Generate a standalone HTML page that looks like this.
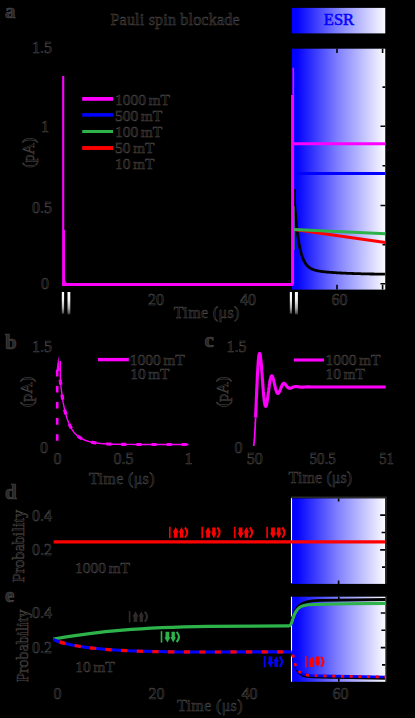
<!DOCTYPE html>
<html>
<head>
<meta charset="utf-8">
<style>
html,body{margin:0;padding:0;background:#000;}
body{width:415px;height:718px;overflow:hidden;font-family:"Liberation Serif",serif;}
svg{display:block;}
text{font-family:"Liberation Serif",serif;fill:#060606;stroke:#4e4a4a;stroke-width:0.5;}
.b{font-weight:bold;fill:#2a2727;stroke:#4a4646;stroke-width:0.7;}
</style>
</head>
<body>
<svg width="415" height="718" viewBox="0 0 415 718">
<defs>
<linearGradient id="g" x1="0" x2="1" y1="0" y2="0">
<stop offset="0" stop-color="#0000ff"/>
<stop offset="0.06" stop-color="#0404ff"/>
<stop offset="0.5" stop-color="#8282ff"/>
<stop offset="1" stop-color="#fbfbff"/>
</linearGradient>
<linearGradient id="w" x1="0" x2="0" y1="0" y2="1">
<stop offset="0" stop-color="#ffffff"/>
<stop offset="0.35" stop-color="#f2f2f2"/>
<stop offset="0.7" stop-color="#b0b0b0"/>
<stop offset="0.93" stop-color="#5a5a5a"/>
<stop offset="1" stop-color="#202020"/>
</linearGradient>
</defs>
<rect width="415" height="718" fill="#000"/>

<!-- panel a -->
<rect x="291.85" y="7.9" width="93.4" height="25.5" fill="url(#g)"/>
<rect x="291.85" y="48.7" width="93.4" height="240.9" fill="url(#g)"/>
<text x="339" y="24.9" font-size="16.5" text-anchor="middle" style="fill:#0404ff;stroke:#0404ff;stroke-width:0.55">ESR</text>
<text x="5" y="17.5" font-size="21" class="b">a</text>
<text x="110.5" y="24.5" font-size="16" textLength="129">Pauli spin blockade</text>
<text x="32" y="53" font-size="16">1.5</text>
<text x="41" y="131.8" font-size="16">1</text>
<text x="32" y="213" font-size="16">0.5</text>
<text x="41" y="289" font-size="16">0</text>
<text x="148" y="305" font-size="16">20</text>
<text x="240" y="305" font-size="16">40</text>
<text x="331.5" y="305" font-size="16">60</text>
<text x="173.8" y="318" font-size="16" textLength="65.5">Time (μs)</text>
<text transform="translate(33.6,167.8) rotate(-90)" font-size="16">(pA)</text>
<!-- ticks -->
<g stroke="#000" stroke-width="1.6">
<path d="M337,48.5v4.5 M382.6,48.5v4.5 M337,289.6v-4.8 M382.6,289.6v-4.8"/>
<path d="M385.3,87.1h-2.8 M385.3,126.2h-4.8 M385.3,165.8h-2.8 M385.3,205.5h-4.8 M385.3,244.8h-2.8 M385.3,283.8h-4.8"/>
</g>
<!-- legend -->
<g fill="none">
<path d="M82.2,98.9H113" stroke="#ff00ff" stroke-width="3.8"/>
<path d="M82.2,114.9H113" stroke="#0000ff" stroke-width="3.6"/>
<path d="M82.2,131.5H113" stroke="#2db34a" stroke-width="3"/>
<path d="M82.2,148H113" stroke="#ff0000" stroke-width="3.9"/>
</g>
<text x="115" y="105" font-size="15.5" word-spacing="-1.5">1000 mT</text>
<text x="115" y="121" font-size="15.5" word-spacing="-1.5">500 mT</text>
<text x="115" y="137" font-size="15.5" word-spacing="-1.5">100 mT</text>
<text x="115" y="153" font-size="15.5" word-spacing="-1.5">50 mT</text>
<text x="115" y="169" font-size="15.5" word-spacing="-1.5">10 mT</text>
<!-- curves -->
<g fill="none" stroke-linejoin="round">
<path d="M294.6,189.0 L294.6,203.5 L295.1,210.1 L295.6,216.0 L296.1,221.3 L296.6,226.2 L297.1,230.5 L297.6,234.4 L298.1,237.9 L298.6,241.1 L299.1,244.0 L299.6,246.5 L300.1,248.9 L300.6,251.0 L301.1,252.9 L301.6,254.6 L302.1,256.1 L302.6,257.5 L303.1,258.8 L303.6,260.0 L304.1,261.0 L304.6,261.9 L305.1,262.8 L305.6,263.6 L306.1,264.3 L306.6,264.9 L307.1,265.5 L307.6,266.0 L308.1,266.5 L308.6,266.9 L309.1,267.3 L309.6,267.7 L310.1,268.0 L310.6,268.3 L311.1,268.6 L311.6,268.9 L312.1,269.1 L312.6,269.3 L313.1,269.5 L313.6,269.7 L314.1,269.9 L314.6,270.0 L315.1,270.2 L315.6,270.3 L316.1,270.5 L316.6,270.6 L317.1,270.7 L317.6,270.8 L318.1,270.9 L318.6,271.0 L319.1,271.1 L319.6,271.2 L320.1,271.2 L320.6,271.3 L321.1,271.4 L321.6,271.5 L322.1,271.5 L322.6,271.6 L323.1,271.7 L323.6,271.7 L324.1,271.8 L324.6,271.8 L325.1,271.9 L325.6,271.9 L326.1,272.0 L326.6,272.0 L327.1,272.1 L327.6,272.1 L328.1,272.2 L328.6,272.2 L329.1,272.2 L329.6,272.3 L330.1,272.3 L330.6,272.4 L331.1,272.4 L331.6,272.4 L332.1,272.5 L332.6,272.5 L333.1,272.5 L333.6,272.6 L334.1,272.6 L334.6,272.6 L335.1,272.7 L335.6,272.7 L336.1,272.7 L336.6,272.8 L337.1,272.8 L337.6,272.8 L338.1,272.9 L338.6,272.9 L339.1,272.9 L339.6,272.9 L340.1,273.0 L340.6,273.0 L341.1,273.0 L341.6,273.0 L342.1,273.1 L342.6,273.1 L343.1,273.1 L343.6,273.1 L344.1,273.2 L344.6,273.2 L345.1,273.2 L345.6,273.2 L346.1,273.2 L346.6,273.3 L347.1,273.3 L347.6,273.3 L348.1,273.3 L348.6,273.4 L349.1,273.4 L349.6,273.4 L350.1,273.4 L350.6,273.4 L351.1,273.4 L351.6,273.5 L352.1,273.5 L352.6,273.5 L353.1,273.5 L353.6,273.5 L354.1,273.6 L354.6,273.6 L355.1,273.6 L355.6,273.6 L356.1,273.6 L356.6,273.6 L357.1,273.6 L357.6,273.7 L358.1,273.7 L358.6,273.7 L359.1,273.7 L359.6,273.7 L360.1,273.7 L360.6,273.7 L361.1,273.8 L361.6,273.8 L362.1,273.8 L362.6,273.8 L363.1,273.8 L363.6,273.8 L364.1,273.8 L364.6,273.8 L365.1,273.9 L365.6,273.9 L366.1,273.9 L366.6,273.9 L367.1,273.9 L367.6,273.9 L368.1,273.9 L368.6,273.9 L369.1,273.9 L369.6,274.0 L370.1,274.0 L370.6,274.0 L371.1,274.0 L371.6,274.0 L372.1,274.0 L372.6,274.0 L373.1,274.0 L373.6,274.0 L374.1,274.0 L374.6,274.1 L375.1,274.1 L375.6,274.1 L376.1,274.1 L376.6,274.1 L377.1,274.1 L377.6,274.1 L378.1,274.1 L378.6,274.1 L379.1,274.1 L379.6,274.1 L380.1,274.1 L380.6,274.1 L381.1,274.2 L381.6,274.2 L382.1,274.2 L382.6,274.2 L383.1,274.2 L383.6,274.2 L384.1,274.2 L384.6,274.2 L385.1,274.2" stroke="#000" stroke-width="2.8"/>
<path d="M294,229.6 L385.4,242.6" stroke="#ff0000" stroke-width="3"/>
<path d="M294,206 V250" stroke="#2db34a" stroke-width="1.2"/>
<path d="M294,229.4 L385.4,233.8" stroke="#2db34a" stroke-width="3"/>
<path d="M293,173.5 H385.4" stroke="#0000ff" stroke-width="3"/>
<path d="M64.1,230 V279 Q64.3,283.6 68,284.2" stroke="#ff00ff" stroke-width="1.8"/>
<path d="M63.2,76 V285" stroke="#ff00ff" stroke-width="2.1"/><path d="M62.15,284.45 H293.4" stroke="#ff00ff" stroke-width="2.9"/><path d="M292.2,95 V285" stroke="#ff00ff" stroke-width="2.3"/>
<path d="M293.3,67.7 V284" stroke="#ff00ff" stroke-width="1.6"/>
<path d="M293,143.8 H385.4" stroke="#ff00ff" stroke-width="3"/>
</g>
<!-- breaks -->
<rect x="61.8" y="292" width="2.3" height="22" fill="url(#w)"/>
<rect x="67.5" y="292" width="2.8" height="22.6" fill="url(#w)"/>
<rect x="289.8" y="292" width="2.2" height="22" fill="url(#w)"/>
<rect x="294.9" y="292" width="3" height="22.6" fill="url(#w)"/>

<!-- panel b -->
<text x="5" y="349" font-size="21" class="b">b</text>
<text x="32" y="351.8" font-size="16">1.5</text>
<text x="40" y="453" font-size="16">0</text>
<text x="53.5" y="464" font-size="16">0</text>
<text x="113.5" y="464" font-size="16">0.5</text>
<text x="184.5" y="464" font-size="16">1</text>
<text x="89" y="484" font-size="16" textLength="65.5">Time (μs)</text>
<text transform="translate(32,407) rotate(-90)" font-size="16">(pA)</text>
<path d="M98,359.6H128.8" stroke="#ff00ff" stroke-width="3.4"/>
<text x="129.8" y="364.6" font-size="15.5" word-spacing="-1.5">1000 mT</text>
<text x="130.2" y="379.3" font-size="15.5" word-spacing="-1.5">10 mT</text>
<path d="M60.3,361 L60.4,381.5 L60.8,385.1 L61.2,388.5 L61.6,391.8 L62.0,394.8 L62.4,397.6 L62.8,400.3 L63.2,402.9 L63.6,404.9 L64.0,406.8 L64.4,408.6 L64.8,410.3 L65.2,411.9 L65.6,413.5 L66.0,414.9 L66.4,416.3 L66.8,417.7 L67.2,418.9 L67.6,420.0 L68.0,421.0 L68.4,422.1 L68.8,423.0 L69.2,424.0 L69.6,424.9 L70.0,425.7 L70.4,426.5 L70.8,427.3 L71.2,428.0 L71.6,428.8 L72.0,429.4 L72.4,430.1 L72.8,430.7 L73.2,431.3 L73.6,431.9 L74.0,432.4 L74.4,432.9 L74.8,433.3 L75.2,433.8 L75.6,434.1 L76.0,434.5 L76.4,434.9 L76.8,435.2 L77.2,435.6 L77.6,435.9 L78.0,436.2 L78.4,436.5 L78.8,436.8 L79.2,437.1 L79.6,437.4 L80.0,437.6 L80.4,437.9 L80.8,438.1 L81.2,438.4 L81.6,438.6 L82.0,438.8 L82.4,439.0 L82.8,439.2 L83.2,439.4 L83.6,439.6 L84.0,439.8 L84.4,439.9 L84.8,440.1 L85.2,440.3 L85.6,440.4 L86.0,440.6 L86.4,440.7 L86.8,440.9 L87.2,441.0 L87.6,441.1 L88.0,441.2 L88.4,441.4 L88.8,441.5 L89.2,441.6 L89.6,441.7 L90.0,441.8 L90.4,441.9 L90.8,442.0 L91.2,442.1 L91.6,442.2 L92.0,442.3 L92.4,442.3 L92.8,442.4 L93.2,442.5 L93.6,442.6 L94.0,442.6 L94.4,442.7 L94.8,442.8 L95.2,442.8 L95.6,442.9 L96.0,442.9 L96.4,443.0 L96.8,443.1 L97.2,443.1 L97.6,443.2 L98.0,443.2 L98.4,443.3 L98.8,443.3 L99.2,443.3 L99.6,443.4 L100.0,443.4 L100.4,443.5 L100.8,443.5 L101.2,443.5 L101.6,443.6 L102.0,443.6 L102.4,443.6 L102.8,443.7 L103.2,443.7 L103.6,443.7 L104.0,443.8 L104.4,443.8 L104.8,443.8 L105.2,443.8 L105.6,443.9 L106.0,443.9 L106.4,443.9 L106.8,443.9 L107.2,444.0 L107.6,444.0 L108.0,444.0 L108.4,444.0 L108.8,444.0 L109.2,444.0 L109.6,444.1 L110.0,444.1 L110.4,444.1 L110.8,444.1 L111.2,444.1 L111.6,444.1 L112.0,444.1 L112.4,444.2 L112.8,444.2 L113.2,444.2 L113.6,444.2 L114.0,444.2 L114.4,444.2 L114.8,444.2 L115.2,444.2 L115.6,444.2 L116.0,444.3 L116.4,444.3 L116.8,444.3 L117.2,444.3 L117.6,444.3 L118.0,444.3 L118.4,444.3 L118.8,444.3 L119.2,444.3 L119.6,444.3 L120.0,444.3 L120.4,444.3 L120.8,444.3 L121.2,444.4 L121.6,444.4 L122.0,444.4 L122.4,444.4 L122.8,444.4 L123.2,444.4 L123.6,444.4 L124.0,444.4 L124.4,444.4 L124.8,444.4 L125.2,444.4 L125.6,444.4 L126.0,444.4 L126.4,444.4 L126.8,444.4 L127.2,444.4 L127.6,444.4 L128.0,444.4 L128.4,444.4 L128.8,444.4 L129.2,444.4 L129.6,444.4 L130.0,444.4 L130.4,444.4 L130.8,444.4 L131.2,444.4 L131.6,444.4 L132.0,444.4 L132.4,444.4 L132.8,444.4 L133.2,444.5 L133.6,444.5 L134.0,444.5 L134.4,444.5 L134.8,444.5 L135.2,444.5 L135.6,444.5 L136.0,444.5 L136.4,444.5 L136.8,444.5 L137.2,444.5 L137.6,444.5 L138.0,444.5 L138.4,444.5 L138.8,444.5 L139.2,444.5 L139.6,444.5 L140.0,444.5 L140.4,444.5 L140.8,444.5 L141.2,444.5 L141.6,444.5 L142.0,444.5 L142.4,444.5 L142.8,444.5 L143.2,444.5 L143.6,444.5 L144.0,444.5 L144.4,444.5 L144.8,444.5 L145.2,444.5 L145.6,444.5 L146.0,444.5 L146.4,444.5 L146.8,444.5 L147.2,444.5 L147.6,444.5 L148.0,444.5 L148.4,444.5 L148.8,444.5 L149.2,444.5 L149.6,444.5 L150.0,444.5 L150.4,444.5 L150.8,444.5 L151.2,444.5 L151.6,444.5 L152.0,444.5 L152.4,444.5 L152.8,444.5 L153.2,444.5 L153.6,444.5 L154.0,444.5 L154.4,444.5 L154.8,444.5 L155.2,444.5 L155.6,444.5 L156.0,444.5 L156.4,444.5 L156.8,444.5 L157.2,444.5 L157.6,444.5 L158.0,444.5 L158.4,444.5 L158.8,444.5 L159.2,444.5 L159.6,444.5 L160.0,444.5 L160.4,444.5 L160.8,444.5 L161.2,444.5 L161.6,444.5 L162.0,444.5 L162.4,444.5 L162.8,444.5 L163.2,444.5 L163.6,444.5 L164.0,444.5 L164.4,444.5 L164.8,444.5 L165.2,444.5 L165.6,444.5 L166.0,444.5 L166.4,444.5 L166.8,444.5 L167.2,444.5 L167.6,444.5 L168.0,444.5 L168.4,444.5 L168.8,444.5 L169.2,444.5 L169.6,444.5 L170.0,444.5 L170.4,444.5 L170.8,444.5 L171.2,444.5 L171.6,444.5 L172.0,444.5 L172.4,444.5 L172.8,444.5 L173.2,444.5 L173.6,444.5 L174.0,444.5 L174.4,444.5 L174.8,444.5 L175.2,444.5 L175.6,444.5 L176.0,444.5 L176.4,444.5 L176.8,444.5 L177.2,444.5 L177.6,444.5 L178.0,444.5 L178.4,444.5 L178.8,444.5 L179.2,444.5 L179.6,444.5 L180.0,444.5 L180.4,444.5 L180.8,444.5 L181.2,444.5 L181.6,444.5 L182.0,444.5 L182.4,444.5 L182.8,444.5 L183.2,444.5 L183.6,444.5 L184.0,444.5 L184.4,444.5 L184.8,444.5 L185.2,444.5 L185.6,444.5 L186.0,444.5 L186.4,444.5 L186.8,444.5 L187.2,444.5 L187.6,444.5 L188.0,444.5 L188.4,444.5" fill="none" stroke="#ff00ff" stroke-width="1.4" stroke-linejoin="round"/>
<path d="M57.2,444.5 V366" fill="none" stroke="#ff00ff" stroke-width="2.6" stroke-dasharray="6.6 9.5" stroke-dashoffset="-3.7"/>
<path d="M56.4,371 L58.4,356 L59.8,371 Z" fill="#ff00ff"/>
<path d="M59.4,370 L60.4,381.5 L60.8,385.1 L61.2,388.5 L61.6,391.8 L62.0,394.8 L62.4,397.6 L62.8,400.3 L63.2,402.9 L63.6,404.9 L64.0,406.8 L64.4,408.6 L64.8,410.3 L65.2,411.9 L65.6,413.5 L66.0,414.9 L66.4,416.3 L66.8,417.7 L67.2,418.9 L67.6,420.0 L68.0,421.0 L68.4,422.1 L68.8,423.0 L69.2,424.0 L69.6,424.9 L70.0,425.7 L70.4,426.5 L70.8,427.3 L71.2,428.0 L71.6,428.8 L72.0,429.4 L72.4,430.1 L72.8,430.7 L73.2,431.3 L73.6,431.9 L74.0,432.4 L74.4,432.9 L74.8,433.3 L75.2,433.8 L75.6,434.1 L76.0,434.5 L76.4,434.9 L76.8,435.2 L77.2,435.6 L77.6,435.9 L78.0,436.2 L78.4,436.5 L78.8,436.8 L79.2,437.1 L79.6,437.4 L80.0,437.6 L80.4,437.9 L80.8,438.1 L81.2,438.4 L81.6,438.6 L82.0,438.8 L82.4,439.0 L82.8,439.2 L83.2,439.4 L83.6,439.6 L84.0,439.8 L84.4,439.9 L84.8,440.1 L85.2,440.3 L85.6,440.4 L86.0,440.6 L86.4,440.7 L86.8,440.9 L87.2,441.0 L87.6,441.1 L88.0,441.2 L88.4,441.4 L88.8,441.5 L89.2,441.6 L89.6,441.7 L90.0,441.8 L90.4,441.9 L90.8,442.0 L91.2,442.1 L91.6,442.2 L92.0,442.3 L92.4,442.3 L92.8,442.4 L93.2,442.5 L93.6,442.6 L94.0,442.6 L94.4,442.7 L94.8,442.8 L95.2,442.8 L95.6,442.9 L96.0,442.9 L96.4,443.0 L96.8,443.1 L97.2,443.1 L97.6,443.2 L98.0,443.2 L98.4,443.3 L98.8,443.3 L99.2,443.3 L99.6,443.4 L100.0,443.4 L100.4,443.5 L100.8,443.5 L101.2,443.5 L101.6,443.6 L102.0,443.6 L102.4,443.6 L102.8,443.7 L103.2,443.7 L103.6,443.7 L104.0,443.8 L104.4,443.8 L104.8,443.8 L105.2,443.8 L105.6,443.9 L106.0,443.9 L106.4,443.9 L106.8,443.9 L107.2,444.0 L107.6,444.0 L108.0,444.0 L108.4,444.0 L108.8,444.0 L109.2,444.0 L109.6,444.1 L110.0,444.1 L110.4,444.1 L110.8,444.1 L111.2,444.1 L111.6,444.1 L112.0,444.1 L112.4,444.2 L112.8,444.2 L113.2,444.2 L113.6,444.2 L114.0,444.2 L114.4,444.2 L114.8,444.2 L115.2,444.2 L115.6,444.2 L116.0,444.3 L116.4,444.3 L116.8,444.3 L117.2,444.3 L117.6,444.3 L118.0,444.3 L118.4,444.3 L118.8,444.3 L119.2,444.3 L119.6,444.3 L120.0,444.3 L120.4,444.3 L120.8,444.3 L121.2,444.4 L121.6,444.4 L122.0,444.4 L122.4,444.4 L122.8,444.4 L123.2,444.4 L123.6,444.4 L124.0,444.4 L124.4,444.4 L124.8,444.4 L125.2,444.4 L125.6,444.4 L126.0,444.4 L126.4,444.4 L126.8,444.4 L127.2,444.4 L127.6,444.4 L128.0,444.4 L128.4,444.4 L128.8,444.4 L129.2,444.4 L129.6,444.4 L130.0,444.4 L130.4,444.4 L130.8,444.4 L131.2,444.4 L131.6,444.4 L132.0,444.4 L132.4,444.4 L132.8,444.4 L133.2,444.5 L133.6,444.5 L134.0,444.5 L134.4,444.5 L134.8,444.5 L135.2,444.5 L135.6,444.5 L136.0,444.5 L136.4,444.5 L136.8,444.5 L137.2,444.5 L137.6,444.5 L138.0,444.5 L138.4,444.5 L138.8,444.5 L139.2,444.5 L139.6,444.5 L140.0,444.5 L140.4,444.5 L140.8,444.5 L141.2,444.5 L141.6,444.5 L142.0,444.5 L142.4,444.5 L142.8,444.5 L143.2,444.5 L143.6,444.5 L144.0,444.5 L144.4,444.5 L144.8,444.5 L145.2,444.5 L145.6,444.5 L146.0,444.5 L146.4,444.5 L146.8,444.5 L147.2,444.5 L147.6,444.5 L148.0,444.5 L148.4,444.5 L148.8,444.5 L149.2,444.5 L149.6,444.5 L150.0,444.5 L150.4,444.5 L150.8,444.5 L151.2,444.5 L151.6,444.5 L152.0,444.5 L152.4,444.5 L152.8,444.5 L153.2,444.5 L153.6,444.5 L154.0,444.5 L154.4,444.5 L154.8,444.5 L155.2,444.5 L155.6,444.5 L156.0,444.5 L156.4,444.5 L156.8,444.5 L157.2,444.5 L157.6,444.5 L158.0,444.5 L158.4,444.5 L158.8,444.5 L159.2,444.5 L159.6,444.5 L160.0,444.5 L160.4,444.5 L160.8,444.5 L161.2,444.5 L161.6,444.5 L162.0,444.5 L162.4,444.5 L162.8,444.5 L163.2,444.5 L163.6,444.5 L164.0,444.5 L164.4,444.5 L164.8,444.5 L165.2,444.5 L165.6,444.5 L166.0,444.5 L166.4,444.5 L166.8,444.5 L167.2,444.5 L167.6,444.5 L168.0,444.5 L168.4,444.5 L168.8,444.5 L169.2,444.5 L169.6,444.5 L170.0,444.5 L170.4,444.5 L170.8,444.5 L171.2,444.5 L171.6,444.5 L172.0,444.5 L172.4,444.5 L172.8,444.5 L173.2,444.5 L173.6,444.5 L174.0,444.5 L174.4,444.5 L174.8,444.5 L175.2,444.5 L175.6,444.5 L176.0,444.5 L176.4,444.5 L176.8,444.5 L177.2,444.5 L177.6,444.5 L178.0,444.5 L178.4,444.5 L178.8,444.5 L179.2,444.5 L179.6,444.5 L180.0,444.5 L180.4,444.5 L180.8,444.5 L181.2,444.5 L181.6,444.5 L182.0,444.5 L182.4,444.5 L182.8,444.5 L183.2,444.5 L183.6,444.5 L184.0,444.5 L184.4,444.5 L184.8,444.5 L185.2,444.5 L185.6,444.5 L186.0,444.5 L186.4,444.5 L186.8,444.5 L187.2,444.5 L187.6,444.5 L188.0,444.5 L188.4,444.5" fill="none" stroke="#ff00ff" stroke-width="3.2" stroke-dasharray="5 10.1" stroke-dashoffset="-9.7"/>
<!-- panel c -->
<text x="204.6" y="347.4" font-size="21" class="b">c</text>
<text x="226.6" y="351.8" font-size="16">1.5</text>
<text x="234.5" y="452.8" font-size="16">0</text>
<text x="246.7" y="464" font-size="16">50</text>
<text x="309.4" y="464" font-size="16" textLength="26.3" lengthAdjust="spacingAndGlyphs">50.5</text>
<text x="379.3" y="464" font-size="16" textLength="14.6" lengthAdjust="spacingAndGlyphs">51</text>
<text x="288.6" y="482.5" font-size="16" textLength="63.6">Time (μs)</text>
<text transform="translate(227.6,407) rotate(-90)" font-size="16">(pA)</text>
<path d="M293.9,360H324" stroke="#ff00ff" stroke-width="3.1"/>
<text x="325.5" y="365.4" font-size="15.5" word-spacing="-1.5">1000 mT</text>
<text x="325.5" y="379.4" font-size="15.5" word-spacing="-1.5">10 mT</text>
<path d="M253.7,446.0 L253.8,444.5 L254.1,442.8 L254.3,440.2 L254.6,436.8 L254.8,432.7 L255.1,428.1 L255.3,423.0 L255.6,417.5" fill="none" stroke="#ff00ff" stroke-width="1.7"/>
<path d="M255.6,417.5 L255.8,411.7 L256.1,405.8 L256.3,399.8 L256.6,393.9 L256.8,388.1 L257.1,382.6 L257.3,377.3 L257.6,372.5 L257.8,368.1 L258.1,364.2 L258.3,360.9 L258.6,358.2 L258.8,356.0 L259.1,354.5 L259.3,353.6 L259.6,353.3 L259.8,353.5 L260.1,354.3 L260.3,355.6 L260.6,357.4 L260.8,359.6 L261.1,362.1 L261.3,365.0 L261.6,368.1 L261.8,371.4 L262.1,374.7 L262.3,378.2 L262.6,381.6 L262.8,385.0 L263.1,388.3 L263.3,391.4 L263.6,394.2 L263.8,396.9 L264.1,399.2 L264.3,401.3 L264.6,403.0 L264.8,404.4 L265.1,405.4 L265.3,406.1 L265.6,406.4 L265.8,406.4 L266.1,406.0 L266.3,405.4 L266.6,404.5 L266.8,403.3 L267.1,401.9 L267.3,400.3 L267.6,398.6 L267.8,396.8 L268.1,394.8 L268.3,392.8 L268.6,390.9 L268.8,388.9 L269.1,387.0 L269.3,385.1 L269.6,383.4 L269.8,381.8 L270.1,380.4 L270.3,379.2 L270.6,378.1 L270.8,377.2 L271.1,376.5 L271.3,376.1 L271.6,375.8 L271.8,375.7 L272.1,375.9 L272.3,376.2 L272.6,376.6 L272.8,377.3 L273.1,378.0 L273.3,378.9 L273.6,379.8 L273.8,380.9 L274.1,382.0 L274.3,383.1 L274.6,384.3 L274.8,385.4 L275.1,386.5 L275.3,387.6 L275.6,388.6 L275.8,389.6 L276.1,390.4 L276.3,391.2 L276.6,391.9 L276.8,392.4 L277.1,392.8 L277.3,393.2 L277.6,393.4 L277.8,393.5 L278.1,393.4 L278.3,393.3 L278.6,393.1 L278.8,392.7 L279.1,392.3 L279.3,391.9 L279.6,391.3 L279.8,390.7 L280.1,390.1 L280.3,389.5 L280.6,388.8 L280.8,388.1 L281.1,387.5 L281.3,386.8 L281.6,386.2 L281.8,385.7 L282.1,385.2 L282.3,384.7 L282.6,384.3 L282.8,384.0 L283.1,383.7 L283.3,383.5 L283.6,383.3 L283.8,383.2 L284.1,383.3 L284.3,383.4 L284.6,383.6 L284.8,383.8 L285.1,384.1 L285.3,384.4 L285.6,384.7 L285.8,385.0 L286.1,385.4 L286.3,385.7 L286.6,386.0 L286.8,386.3 L287.1,386.6 L287.3,386.9 L287.6,387.2 L287.8,387.4 L288.1,387.6 L288.3,387.8 L288.6,388.0 L288.8,388.1 L289.1,388.2 L289.3,388.2 L289.6,388.3 L289.8,388.3 L290.1,388.3 L290.3,388.2 L290.6,388.2 L290.8,388.1 L291.1,388.0 L291.3,387.9 L291.6,387.8 L291.8,387.7 L292.1,387.6 L292.3,387.5 L292.6,387.4 L292.8,387.2 L293.1,387.1 L293.3,387.0 L293.6,386.9 L293.8,386.9 L294.1,386.8 L294.3,386.7 L294.6,386.7 L294.8,386.6 L295.1,386.6 L295.3,386.5 L295.6,386.5 L295.8,386.5 L296.1,386.5 L296.3,386.5 L296.6,386.6 L296.8,386.6 L297.1,386.6 L297.3,386.6 L297.6,386.7 L297.8,386.7 L298.1,386.7 L298.3,386.8 L298.6,386.8 L298.8,386.9 L299.1,386.9 L299.3,386.9 L299.6,387.0 L299.8,387.0 L300.1,387.0 L300.3,387.1 L300.6,387.1 L300.8,387.1 L301.1,387.1 L301.3,387.1 L301.6,387.1 L301.8,387.1 L302.1,387.1 L302.3,387.1 L302.6,387.1 L302.8,387.1 L303.1,387.1 L303.3,387.1 L303.6,387.1 L303.8,387.1 L304.1,387.1 L304.3,387.0 L304.6,387.0 L304.8,387.0 L305.1,387.0 L305.3,387.0 L305.6,387.0 L305.8,387.0 L306.1,387.0 L306.3,386.9 L306.6,386.9 L306.8,386.9 L307.1,386.9 L307.3,386.9 L307.6,386.9 L307.8,386.9 L308.1,386.9 L308.3,386.9 L308.6,386.9 L308.8,386.9 L309.1,386.9 L309.3,386.9 L309.6,386.9 L309.8,386.9 L310.1,386.9 L310.3,386.9 L310.6,387.0 L310.8,387.0 L311.1,387.0 L311.3,387.0 L311.6,387.0 L311.8,387.0 L312.1,387.0 L312.3,387.0 L312.6,387.0 L312.8,387.0 L313.1,387.0 L313.3,387.0 L313.6,387.0 L313.8,387.0 L314.1,387.0 L314.3,387.0 L314.6,387.0 L314.8,387.0 L315.1,387.0 L315.3,387.0 L315.6,387.0 L315.8,387.0 L316.1,387.0 L316.3,387.0 L316.6,387.0 L316.8,387.0 L317.1,387.0 L317.3,387.0 L317.6,387.0 L317.8,387.0 L318.1,387.0 L318.3,387.0 L318.6,387.0 L318.8,387.0 L319.1,387.0 L319.3,387.0 L319.6,387.0 L319.8,387.0 L320.1,387.0 L320.3,387.0 L320.6,387.0 L320.8,387.0 L321.1,387.0 L321.3,387.0 L321.6,387.0 L321.8,387.0 L322.1,387.0 L322.3,387.0 L322.6,387.0 L322.8,387.0 L323.1,387.0 L323.3,387.0 L323.6,387.0 L323.8,387.0 L327.8,387.0 L331.8,387.0 L335.8,387.0 L339.8,387.0 L343.8,387.0 L347.8,387.0 L351.8,387.0 L355.8,387.0 L359.8,387.0 L363.8,387.0 L367.8,387.0 L371.8,387.0 L375.8,387.0 L379.8,387.0 L383.8,387.0 L385.6,387.0" fill="none" stroke="#ff00ff" stroke-width="3.1" stroke-linejoin="round"/>
<!-- panel d -->
<rect x="291.6" y="498.4" width="93.6" height="85.5" fill="url(#g)"/>
<path d="M291.5,498.2V583.2" stroke="#ffffff" stroke-width="1.1"/>
<path d="M291,497.3H386.7 M386,496.5V583.5" stroke="#2a2a2a" stroke-width="1.6" fill="none"/>
<path d="M386.4,595.5V682" stroke="#1e1e1e" stroke-width="1.2" fill="none"/>
<g stroke="#000" stroke-width="1.6">
<path d="M338.6,498.4v3.2 M338.6,583.9v-3.4"/>
<path d="M385.2,515.1h-5 M385.2,532.5h-3.6 M385.2,549.9h-5 M385.2,567.1h-3.2"/>
</g>
<text x="5" y="499" font-size="21" class="b">d</text>
<text x="32" y="521" font-size="16">0.4</text>
<text x="32" y="555" font-size="16">0.2</text>
<text transform="translate(24,582.3) rotate(-90)" font-size="16" textLength="72.5">Probability</text>
<text x="75" y="573" font-size="15.5" word-spacing="-1.5">1000 mT</text>
<path d="M53.6,541.9H385" stroke="#ff0000" stroke-width="3.4" fill="none"/>
<g transform="translate(169.0,526.8)" fill="#ff0000" stroke="none"><rect x="0" y="0" width="1.6" height="11.4"/><path d="M6.70,0.2 L9.75,5.6 H8.55 V11 H4.85 V5.6 H3.65 Z"/><path d="M12.50,0.2 L15.25,5.6 H14.20 V11 H10.80 V5.6 H9.75 Z"/><path d="M15.9,0.7 Q20.6,5.7 15.9,10.8" fill="none" stroke="#ff0000" stroke-width="2.1"/></g>
<g transform="translate(201.4,526.8)" fill="#ff0000" stroke="none"><rect x="0" y="0" width="1.6" height="11.4"/><path d="M6.70,0.2 L9.75,5.6 H8.55 V11 H4.85 V5.6 H3.65 Z"/><path d="M12.50,11.4 L15.25,6 H14.20 V0.6 H10.80 V6 H9.75 Z"/><path d="M15.9,0.7 Q20.6,5.7 15.9,10.8" fill="none" stroke="#ff0000" stroke-width="2.1"/></g>
<g transform="translate(233.9,526.8)" fill="#ff0000" stroke="none"><rect x="0" y="0" width="1.6" height="11.4"/><path d="M6.70,11.4 L9.75,6 H8.55 V0.6 H4.85 V6 H3.65 Z"/><path d="M12.50,0.2 L15.25,5.6 H14.20 V11 H10.80 V5.6 H9.75 Z"/><path d="M15.9,0.7 Q20.6,5.7 15.9,10.8" fill="none" stroke="#ff0000" stroke-width="2.1"/></g>
<g transform="translate(266.3,526.8)" fill="#ff0000" stroke="none"><rect x="0" y="0" width="1.6" height="11.4"/><path d="M6.70,11.4 L9.75,6 H8.55 V0.6 H4.85 V6 H3.65 Z"/><path d="M12.50,11.4 L15.25,6 H14.20 V0.6 H10.80 V6 H9.75 Z"/><path d="M15.9,0.7 Q20.6,5.7 15.9,10.8" fill="none" stroke="#ff0000" stroke-width="2.1"/></g>
<!-- panel e -->
<rect x="291.6" y="596.7" width="93.8" height="85.1" fill="url(#g)"/>
<path d="M291.5,596.7V681.8" stroke="#ffffff" stroke-width="1.1"/>
<g stroke="#000" stroke-width="1.6">
<path d="M338.8,596.7v3.3 M338.8,681.8v-2.8"/>
<path d="M385.4,613h-4.6 M385.4,630.3h-4 M385.4,647.6h-4.6 M385.4,664.9h-3.4"/>
</g>
<text x="5" y="602.2" font-size="21" class="b">e</text>
<text x="32" y="617.6" font-size="16">0.4</text>
<text x="32" y="652.7" font-size="16">0.2</text>
<text transform="translate(27.6,682) rotate(-90)" font-size="16" textLength="72.5">Probability</text>
<text x="75.3" y="672" font-size="15.5" word-spacing="-1.5">10 mT</text>
<text x="53.5" y="699" font-size="16">0</text>
<text x="148.5" y="699" font-size="16">20</text>
<text x="241.5" y="699" font-size="16">40</text>
<text x="332.5" y="699" font-size="16">60</text>
<text x="177" y="711" font-size="16" textLength="65.5">Time (μs)</text>
<g fill="none">
<path d="M290.5,623 C292,620 294,612 297,608 C300,604 305,601.6 312,600.9 L320,600.4 L385.5,599.5" stroke="#000" stroke-width="2.9"/>
<path d="M291.6,653.4 C293,654.5 293.3,659 294.1,662.1 C295,665.5 296,668 297,669.8 C298.5,672.5 300.5,674.5 302.8,675.5 C305.5,676.5 309,676.9 312.4,677.1 C325,677.5 340,677.8 350,677.9 L385,678.5" stroke="#000" stroke-width="2.4"/>
<path d="M53.6,639 C100,631 140,627.5 208,626.4 L289,625.9 C291.5,625.9 292,621 293.1,618.2 C294,615 295,613 296,611.4 C297.5,609 299,607.5 300.8,606.6 C303,605.5 305.5,605 308.5,604.7 C320,604 335,603.8 350,603.7 L385.9,603.4" stroke="#2db34a" stroke-width="3.1"/>
<path d="M53.6,639.6 C80,651.5 150,652 208,652 L291.6,651.9" stroke="#0000ff" stroke-width="3.2"/>
<path d="M53.6,639.6 C80,651.5 150,652 208,652 L291.6,651.9" stroke="#ff0000" stroke-width="3.2" stroke-dasharray="6.2 9.4" stroke-dashoffset="-6.4"/>
<path d="M291.6,651.9 C293,653 293.3,657.5 294.1,660.6 C295,664 296,666.5 297,668.3 C298.5,671 300.5,673 302.8,674 C305.5,675 309,675.4 312.4,675.6 C325,676 340,676.3 350,676.4 L385,677" stroke="#0000ff" stroke-width="2.7"/>
<path d="M291.6,651.9 C293,653 293.3,657.5 294.1,660.6 C295,664 296,666.5 297,668.3 C298.5,671 300.5,673 302.8,674 C305.5,675 309,675.4 312.4,675.6 C325,676 340,676.3 350,676.4 L385,677" stroke="#ff0000" stroke-width="2.7" stroke-dasharray="3 5.7" stroke-dashoffset="-3"/>
</g>
<g transform="translate(128.8,611.0)" fill="#2e2a2a" stroke="none"><rect x="0" y="0" width="1.6" height="11.4"/><path d="M6.70,0.2 L9.75,5.6 H8.55 V11 H4.85 V5.6 H3.65 Z"/><path d="M12.50,0.2 L15.25,5.6 H14.20 V11 H10.80 V5.6 H9.75 Z"/><path d="M15.9,0.7 Q20.6,5.7 15.9,10.8" fill="none" stroke="#2e2a2a" stroke-width="2.1"/></g>
<g transform="translate(160.7,631.2)" fill="#2db34a" stroke="none"><rect x="0" y="0" width="1.6" height="11.4"/><path d="M6.70,11.4 L9.75,6 H8.55 V0.6 H4.85 V6 H3.65 Z"/><path d="M12.50,11.4 L15.25,6 H14.20 V0.6 H10.80 V6 H9.75 Z"/><path d="M15.9,0.7 Q20.6,5.7 15.9,10.8" fill="none" stroke="#2db34a" stroke-width="2.1"/></g>
<g transform="translate(263.7,656.0)" fill="#0000ff" stroke="none"><rect x="0" y="0" width="1.6" height="11.4"/><path d="M6.70,11.4 L9.75,6 H8.55 V0.6 H4.85 V6 H3.65 Z"/><path d="M12.50,0.2 L15.25,5.6 H14.20 V11 H10.80 V5.6 H9.75 Z"/><path d="M15.9,0.7 Q20.6,5.7 15.9,10.8" fill="none" stroke="#0000ff" stroke-width="2.1"/></g>
<g transform="translate(305.1,656.0)" fill="#ff0000" stroke="none"><rect x="0" y="0" width="1.6" height="11.4"/><path d="M6.70,0.2 L9.75,5.6 H8.55 V11 H4.85 V5.6 H3.65 Z"/><path d="M12.50,11.4 L15.25,6 H14.20 V0.6 H10.80 V6 H9.75 Z"/><path d="M15.9,0.7 Q20.6,5.7 15.9,10.8" fill="none" stroke="#ff0000" stroke-width="2.1"/></g>
</svg>
</body>
</html>
